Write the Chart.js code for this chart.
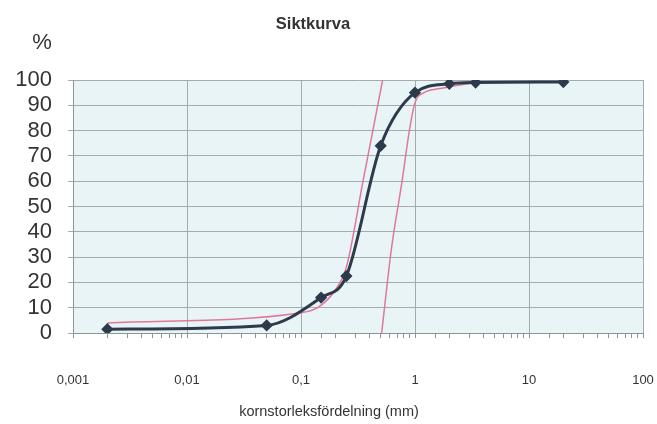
<!DOCTYPE html>
<html>
<head>
<meta charset="utf-8">
<script src="https://cdn.jsdelivr.net/npm/chart.js@4.4.1/dist/chart.umd.min.js"></script>
<style>
  html, body { margin: 0; padding: 0; background: #ffffff; }
  #wrap { width: 657px; height: 424px; position: relative; }
</style>
</head>
<body>
<div id="wrap"><canvas id="c" width="657" height="424"></canvas></div>
<script>
// Sieve analysis: grain size (mm) vs. percent passing
const sieveSizes   = [0.002, 0.05, 0.15, 0.25, 0.5, 1, 2, 3.4, 20];
const passingPct   = [1.5, 3, 14, 22.5, 74, 95, 98.5, 99, 99.2];

// Envelope curves (fine and coarse limits)
const fineLimitX   = [0.002, 0.1, 0.14, 0.2, 0.25, 0.35, 0.52];
const fineLimitY   = [4, 8, 10, 17, 26, 60, 100];
const coarseLimitX = [0.51, 0.62, 0.77, 0.9, 1.0, 1.2, 1.6, 2.1, 3.4];
const coarseLimitY = [0, 33, 60, 81, 91, 95, 96.5, 97.5, 99];

// Axis labelling
const xTickLabels = { 0.001: '0,001', 0.01: '0,01', 0.1: '0,1', 1: '1', 10: '10', 100: '100' };
const yTicks      = [0, 10, 20, 30, 40, 50, 60, 70, 80, 90, 100];
const chartTitle  = 'Siktkurva';
const yUnit       = '%';
const xTitle      = 'kornstorleksfördelning (mm)';

const toPoints = (xs, ys) => xs.map((x, i) => ({ x: x, y: ys[i] }));
const isDecade = v => Math.abs(Math.log10(v) - Math.round(Math.log10(v))) < 1e-9;

const FONT = "'Liberation Sans', Arial, sans-serif";
const TEXT = '#333333';
const GRID = '#a3abad';
const FRAME = '#8c9496';

const plotBackground = {
  id: 'plotBackground',
  beforeDraw(chart) {
    const { ctx, chartArea: a } = chart;
    ctx.save();
    ctx.fillStyle = '#e8f4f6';
    ctx.fillRect(a.left, a.top, a.right - a.left, a.bottom - a.top);
    ctx.restore();
  }
};

const freeText = {
  id: 'freeText',
  afterDraw(chart) {
    const ctx = chart.ctx;
    ctx.save();
    ctx.fillStyle = TEXT;
    ctx.textAlign = 'center';
    ctx.textBaseline = 'middle';
    ctx.font = 'bold 16.5px ' + FONT;
    ctx.fillText(chartTitle, 313, 24);
    ctx.font = '22px ' + FONT;
    ctx.fillText(yUnit, 42, 43);
    ctx.font = '14.5px ' + FONT;
    ctx.fillText(xTitle, 329, 412);
    ctx.restore();
  }
};

new Chart(document.getElementById('c'), {
  type: 'line',
  data: {
    datasets: [
      {
        data: toPoints(sieveSizes, passingPct),
        borderColor: '#2c3a4c',
        backgroundColor: '#2c3a4c',
        borderWidth: 3,
        pointStyle: 'rectRot',
        pointRadius: 4,
        pointBackgroundColor: '#2c3a4c',
        pointBorderColor: '#2c3a4c',
        cubicInterpolationMode: 'monotone',
        fill: false
      },
      {
        data: toPoints(fineLimitX, fineLimitY),
        borderColor: '#e0789c',
        borderWidth: 1.5,
        pointRadius: 0,
        cubicInterpolationMode: 'monotone',
        fill: false
      },
      {
        data: toPoints(coarseLimitX, coarseLimitY),
        borderColor: '#e0789c',
        borderWidth: 1.5,
        pointRadius: 0,
        cubicInterpolationMode: 'monotone',
        fill: false
      }
    ]
  },
  options: {
    responsive: false,
    animation: false,
    devicePixelRatio: 1,
    layout: { padding: { left: 0, right: 14, top: 80, bottom: 31 } },
    plugins: { legend: { display: false }, tooltip: { enabled: false }, title: { display: false } },
    scales: {
      x: {
        type: 'logarithmic',
        min: 0.001,
        max: 100,
        afterFit(s) { s.height = 60; s.paddingLeft = 0; s.paddingRight = 0; },
        border: { display: true, color: FRAME, width: 1 },
        grid: {
          drawTicks: true,
          tickLength: 5,
          color: ctx => (ctx.tick && isDecade(ctx.tick.value)) ? GRID : 'rgba(0,0,0,0)',
          tickColor: FRAME,
          lineWidth: 1
        },
        ticks: {
          autoSkip: false,
          maxRotation: 0,
          padding: 35,
          color: TEXT,
          font: { family: FONT, size: 13 },
          callback: v => (isDecade(v) ? (xTickLabels[Number(v.toPrecision(6))] || '') : '')
        }
      },
      y: {
        min: 0,
        max: 100,
        afterFit(s) { s.width = 73; s.paddingTop = 0; s.paddingBottom = 0; },
        afterBuildTicks(s) { s.ticks = yTicks.map(v => ({ value: v })); },
        border: { display: true, color: FRAME, width: 1 },
        grid: { color: GRID, tickColor: GRID, tickLength: 5, lineWidth: 1 },
        ticks: {
          autoSkip: false,
          padding: 16,
          color: TEXT,
          font: { family: FONT, size: 22 },
          callback: v => String(v)
        }
      }
    }
  },
  plugins: [plotBackground, freeText]
});
</script>
</body>
</html>
